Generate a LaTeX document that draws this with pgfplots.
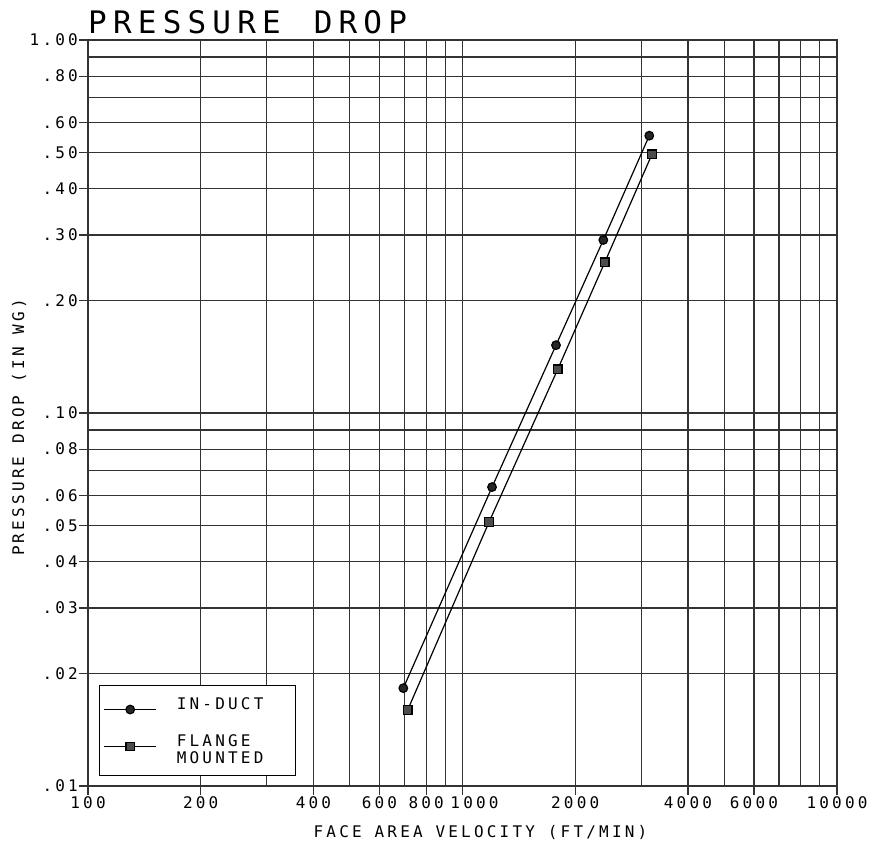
\documentclass[border=0pt]{standalone}
\usepackage{pgfplots}
\pgfplotsset{compat=1.18}
\usepackage{fontspec}
\newfontfamily\cad[LetterSpace=20]{DejaVu Sans Mono}
\newcommand{\cadsmall}{\cad\fontsize{16}{17}\selectfont}
\newcommand{\cadtitle}{\cad\fontsize{31}{34}\selectfont}
\begin{document}
\begin{tikzpicture}
\useasboundingbox[fill=white] (-88pt,-60pt) rectangle (785pt,786pt);
\begin{axis}[
  at={(0pt,0pt)}, anchor=south west,
  scale only axis, width=749pt, height=746pt,
  xmode=log, ymode=log,
  xmin=100, xmax=10000, ymin=0.01, ymax=1,
  xtick={100,200,400,600,800,1000,2000,4000,6000,10000},
  xticklabels={100,200,400,600,800,\hspace*{24pt}1000,2000,4000,6000,10000},
  minor xtick={300,500,700,900,3000,5000,7000,8000,9000},
  ytick={0.01,0.02,0.03,0.04,0.05,0.06,0.08,0.1,0.2,0.3,0.4,0.5,0.6,0.8,1},
  yticklabels={.01,.02,.03,.04,.05,.06,.08,.10,.20,.30,.40,.50,.60,.80,1.00},
  minor ytick={0.07,0.09,0.7,0.9},
  tick pos=left, tick align=outside,
  major tick length=9pt, minor tick length=0pt,
  tick style={black!80, line width=1.2pt},
  grid=both,
  major grid style={black!80, line width=1.2pt},
  minor grid style={black!80, line width=1.2pt},
  axis line style={black!80, line width=1.2pt},
  tick label style={font=\cadsmall},
  xticklabel style={inner sep=1pt},
  yticklabel style={inner sep=1pt},
  title={PRESSURE\hspace{8pt} DROP},
  title style={at={(axis description cs:0,1)}, anchor=base west, yshift=1pt, xshift=0pt, inner sep=0pt, font=\cadtitle},
  xlabel={FACE AREA VELOCITY (FT/MIN)},
  xlabel style={at={(axis description cs:0.524,0)}, anchor=base, yshift=-51pt, font=\cadsmall},
  ylabel={PRESSURE DROP (IN WG)},
  ylabel style={at={(axis description cs:-0.08545,0.4805)}, anchor=base, font=\cadsmall},
  legend cell align=left,
  legend style={at={(0.0147,0.0134)}, anchor=south west, draw=black, line width=1.2pt,
    font=\cadsmall, cells={anchor=base west}, nodes={inner sep=2pt, text depth=17pt}, row sep=4pt, column sep=18pt,
    inner xsep=4pt, inner ysep=10pt},
  legend image code/.code={\draw[mark repeat=2,mark phase=2,line width=1.2pt] plot coordinates {(0pt,0pt)(26pt,0pt)(52pt,0pt)};},
]
\addplot[black, line width=1.2pt, mark=*, mark size=4.3pt, mark options={fill=black!85, draw=black}]
  coordinates {(695,0.0183) (1199,0.0633) (1777,0.152) (2377,0.291) (3153,0.554)};
\addlegendentry{IN-DUCT}
\addplot[black, line width=1.2pt, mark=square*, mark size=4.3pt, mark options={fill=black!70, draw=black}]
  coordinates {(714,0.0160) (1177,0.0510) (1796,0.131) (2398,0.2535) (3206,0.494)};
\addlegendentry{\vtop{\hbox{FLANGE}\hbox{MOUNTED\hspace*{26pt}}}}
\end{axis}
\end{tikzpicture}
\end{document}
